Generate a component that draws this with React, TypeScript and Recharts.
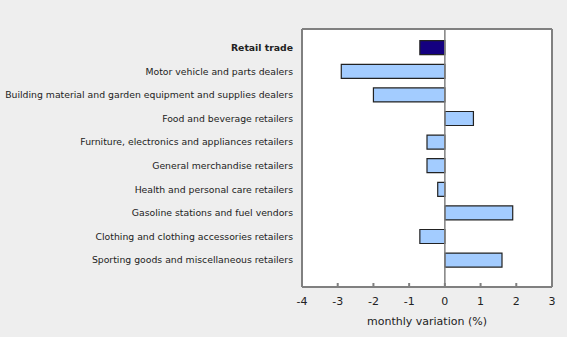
import React from 'react';
import {
  Bar,
  BarChart,
  CartesianGrid,
  Cell,
  ReferenceLine,
  XAxis,
  YAxis,
} from 'recharts';

const categories = [
  'Retail trade',
  'Motor vehicle and parts dealers',
  'Building material and garden equipment and supplies dealers',
  'Food and beverage retailers',
  'Furniture, electronics and appliances retailers',
  'General merchandise retailers',
  'Health and personal care retailers',
  'Gasoline stations and fuel vendors',
  'Clothing and clothing accessories retailers',
  'Sporting goods and miscellaneous retailers',
];

const variation = [-0.7, -2.9, -2.0, 0.8, -0.5, -0.5, -0.2, 1.9, -0.7, 1.6];

const xTicks = [-4, -3, -2, -1, 0, 1, 2, 3];

const FONT = '"DejaVu Sans", Verdana, sans-serif';
const FRAME = '#808080';

const data = categories.map((name, i) => ({ name, value: variation[i] }));

interface TickProps {
  x?: number;
  y?: number;
  payload?: { value: string; index: number };
}

function CategoryTick({ x = 0, y = 0, payload }: TickProps) {
  if (!payload) return null;
  const total = payload.value === categories[0];
  return (
    <text
      x={x}
      y={y}
      dy="0.35em"
      textAnchor="end"
      fontFamily={FONT}
      fontSize={9.3}
      fontWeight={total ? 'bold' : 'normal'}
      fill="#222"
    >
      {payload.value}
    </text>
  );
}

export default function App() {
  return (
    <div
      style={{
        position: 'fixed',
        left: 0,
        top: 0,
        width: 567,
        height: 337,
        background: '#eeeeee',
      }}
    >
      <BarChart
        width={567}
        height={337}
        data={data}
        layout="vertical"
        margin={{ top: 28, right: 14, bottom: 0, left: 0 }}
        barCategoryGap="20%"
      >
        <CartesianGrid horizontal={false} vertical={false} fill="#ffffff" />
        <XAxis
          type="number"
          domain={[-4, 3]}
          ticks={xTicks}
          allowDataOverflow
          height={50}
          tickSize={-4}
          tickMargin={14}
          stroke={FRAME}
          strokeWidth={2}
          tick={{ fill: '#222', fontFamily: FONT, fontSize: 11, strokeWidth: 0 }}
          label={{
            value: 'monthly variation (%)',
            position: 'insideBottom',
            offset: 12,
            fill: '#222',
            fontFamily: FONT,
            fontSize: 11,
          }}
        />
        <XAxis
          xAxisId="top"
          orientation="top"
          type="number"
          domain={[-4, 3]}
          height={1}
          tick={false}
          tickLine={false}
          stroke={FRAME}
          strokeWidth={2}
        />
        <YAxis
          type="category"
          dataKey="name"
          width={302}
          stroke={FRAME}
          strokeWidth={2}
          tickLine={false}
          tickSize={0}
          tickMargin={9}
          interval={0}
          padding={{ top: 7, bottom: 15 }}
          tick={<CategoryTick />}
        />
        <YAxis
          yAxisId="right"
          orientation="right"
          type="category"
          dataKey="name"
          width={1}
          tick={false}
          tickLine={false}
          stroke={FRAME}
          strokeWidth={2}
        />
        <Bar
          dataKey="value"
          stroke="#222"
          strokeWidth={1.2}
          isAnimationActive={false}
        >
          {data.map((_, i) => (
            <Cell key={`cell-${i}`} fill={i === 0 ? '#140080' : '#a3ccff'} />
          ))}
        </Bar>
        <ReferenceLine x={0} stroke={FRAME} strokeWidth={1.5} />
      </BarChart>
    </div>
  );
}
